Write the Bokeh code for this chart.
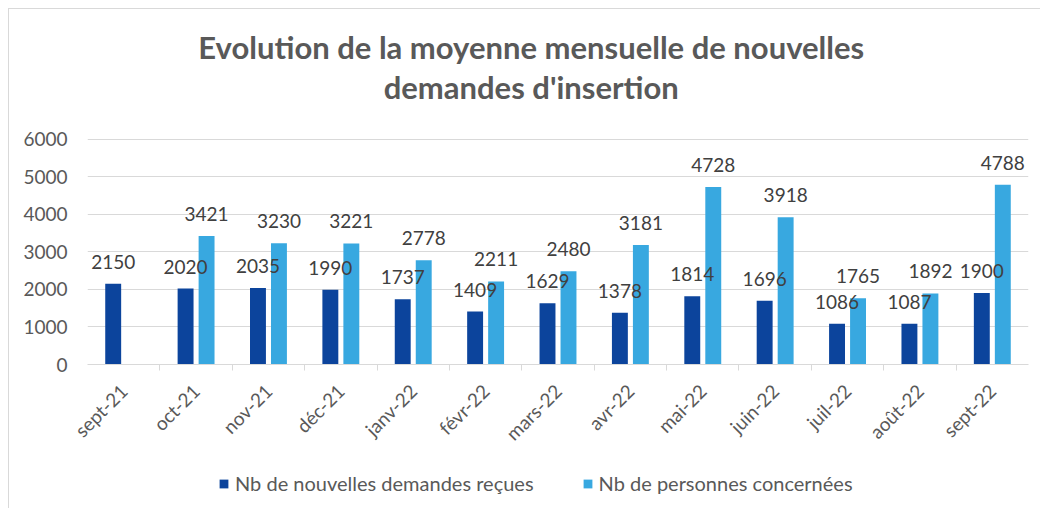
import math
from bokeh.plotting import figure
from bokeh.layouts import column
from bokeh.models import (ColumnDataSource, Range1d, FactorRange, CategoricalAxis,
                          FixedTicker, Legend, LegendItem, Label)
from bokeh.transform import dodge
from bokeh.core.properties import value
from bokeh.embed import file_html
from bokeh.resources import INLINE

months = ["sept-21", "oct-21", "nov-21", "déc-21", "janv-22", "févr-22", "mars-22",
          "avr-22", "mai-22", "juin-22", "juil-22", "août-22", "sept-22"]
demandes = [2150, 2020, 2035, 1990, 1737, 1409, 1629, 1378, 1814, 1696, 1086, 1087, 1900]
personnes = [None, 3421, 3230, 3221, 2778, 2211, 2480, 3181, 4728, 3918, 1765, 1892, 4788]
y_ticks = [0, 1000, 2000, 3000, 4000, 5000, 6000]
title_lines = ["Evolution de la moyenne mensuelle de nouvelles", "demandes d'insertion"]
series_names = ["Nb de nouvelles demandes reçues", "Nb de personnes concernées"]

DARK = "#0C449C"
LIGHT = "#38A8E0"
GREY_TXT = "#595959"
GRID = "#D9D9D9"
FONT = "Lato"

src1 = ColumnDataSource(dict(m=months, v=demandes, t=[str(v) for v in demandes]))
m2 = [m for m, v in zip(months, personnes) if v is not None]
v2 = [v for v in personnes if v is not None]
src2 = ColumnDataSource(dict(m=m2, v=v2, t=[str(v) for v in v2]))

# frame runs from the top of the chart (title area) down to the value 0;
# the part above 6000 is blank space holding the title
Y_TOP = 9450
p = figure(width=1032, height=446, x_range=FactorRange(*months, range_padding=0),
           y_range=Range1d(0, Y_TOP), output_backend="svg", toolbar_location=None,
           x_axis_location=None, min_border_left=78, min_border_right=13,
           min_border_top=0, min_border_bottom=90)
p.margin = (8, 0, 0, 8)
p.styles = {"border-left": "1px solid #D9D9D9", "border-top": "1px solid #D9D9D9"}
p.outline_line_color = None
p.xgrid.grid_line_color = None
p.ygrid.grid_line_color = GRID
p.ygrid.grid_line_width = 1
p.ygrid.ticker = FixedTicker(ticks=y_ticks)

# y axis
ya = p.yaxis[0]
ya.ticker = FixedTicker(ticks=y_ticks)
ya.axis_line_color = None
ya.major_tick_line_color = None
ya.minor_tick_line_color = None
ya.major_label_text_color = GREY_TXT
ya.major_label_text_font = FONT
ya.major_label_text_font_size = "19px"
ya.major_label_standoff = 14

# boundary ticks axis: one factor per category boundary
bounds = [f"b{i}" for i in range(len(months) + 1)]
p.extra_x_ranges = {"bounds": FactorRange(*bounds, range_padding=-0.5,
                                          range_padding_units="absolute")}
tick_axis = CategoricalAxis(x_range_name="bounds",
                            axis_line_color=GRID, major_tick_line_color=GRID, major_tick_out=6,
                            major_tick_in=0, minor_tick_line_color=None,
                            major_label_text_font_size="1px", major_label_text_color=None,
                            major_label_standoff=0)
p.add_layout(tick_axis, "below")

cat_axis = CategoricalAxis(axis_line_color=None, major_tick_line_color=None,
                           minor_tick_line_color=None,
                           major_label_orientation=math.pi / 4,
                           major_label_text_color=GREY_TXT, major_label_text_font=FONT,
                           major_label_text_font_size="19px", major_label_standoff=11)
p.add_layout(cat_axis, "below")

r1 = p.vbar(x=dodge("m", -0.145, range=p.x_range), top="v", width=0.22, source=src1,
            fill_color=DARK, line_color=None)
r2 = p.vbar(x=dodge("m", 0.145, range=p.x_range), top="v", width=0.22, source=src2,
            fill_color=LIGHT, line_color=None)

for src, off in ((src1, -0.145), (src2, 0.145)):
    p.text(x=dodge("m", off, range=p.x_range), y="v", text="t", source=src,
           text_align="center", text_baseline="alphabetic", y_offset=-22,
           text_font=value(FONT), text_font_size="19px", text_color="#404040")

# title lines (in the blank top part of the frame)
for line, yy in zip(title_lines, (8441, 7379)):
    p.add_layout(Label(x=6.13, y=yy, text=line, text_align="center",
                       text_baseline="alphabetic", text_font=FONT, text_font_style="bold",
                       text_font_size="31px", text_color=GREY_TXT))

# legend strip below the chart (legend-only renderers, hidden in the strip itself)
lg = figure(width=1032, height=54, x_range=p.x_range, y_range=Range1d(-2, -1),
            output_backend="svg", toolbar_location=None, x_axis_location=None,
            y_axis_location=None, min_border=0)
lg.margin = (0, 0, 0, 8)
lg.styles = {"border-left": "1px solid #D9D9D9"}
lg.outline_line_color = None
lg.xgrid.grid_line_color = None
lg.ygrid.grid_line_color = None
k1 = lg.vbar(x=dodge("m", -0.145, range=p.x_range), top="v", width=0.22, source=src1,
             fill_color=DARK, line_color=None, visible=False)
k2 = lg.vbar(x=dodge("m", 0.145, range=p.x_range), top="v", width=0.22, source=src2,
             fill_color=LIGHT, line_color=None, visible=False)
legend = Legend(items=[LegendItem(label=series_names[0], renderers=[k1]),
                       LegendItem(label=series_names[1], renderers=[k2])],
                orientation="horizontal", location=(131, 13),
                glyph_width=11, glyph_height=11, label_height=11, label_standoff=6,
                spacing=48, padding=0, margin=0, border_line_color=None,
                background_fill_alpha=0, inactive_fill_alpha=0, label_text_font=FONT,
                label_text_font_size="20px", label_text_color=GREY_TXT,
                label_text_baseline="middle")
lg.add_layout(legend, "center")

layout = column(p, lg, spacing=0)
open("out.html", "w").write(file_html(layout, INLINE))
